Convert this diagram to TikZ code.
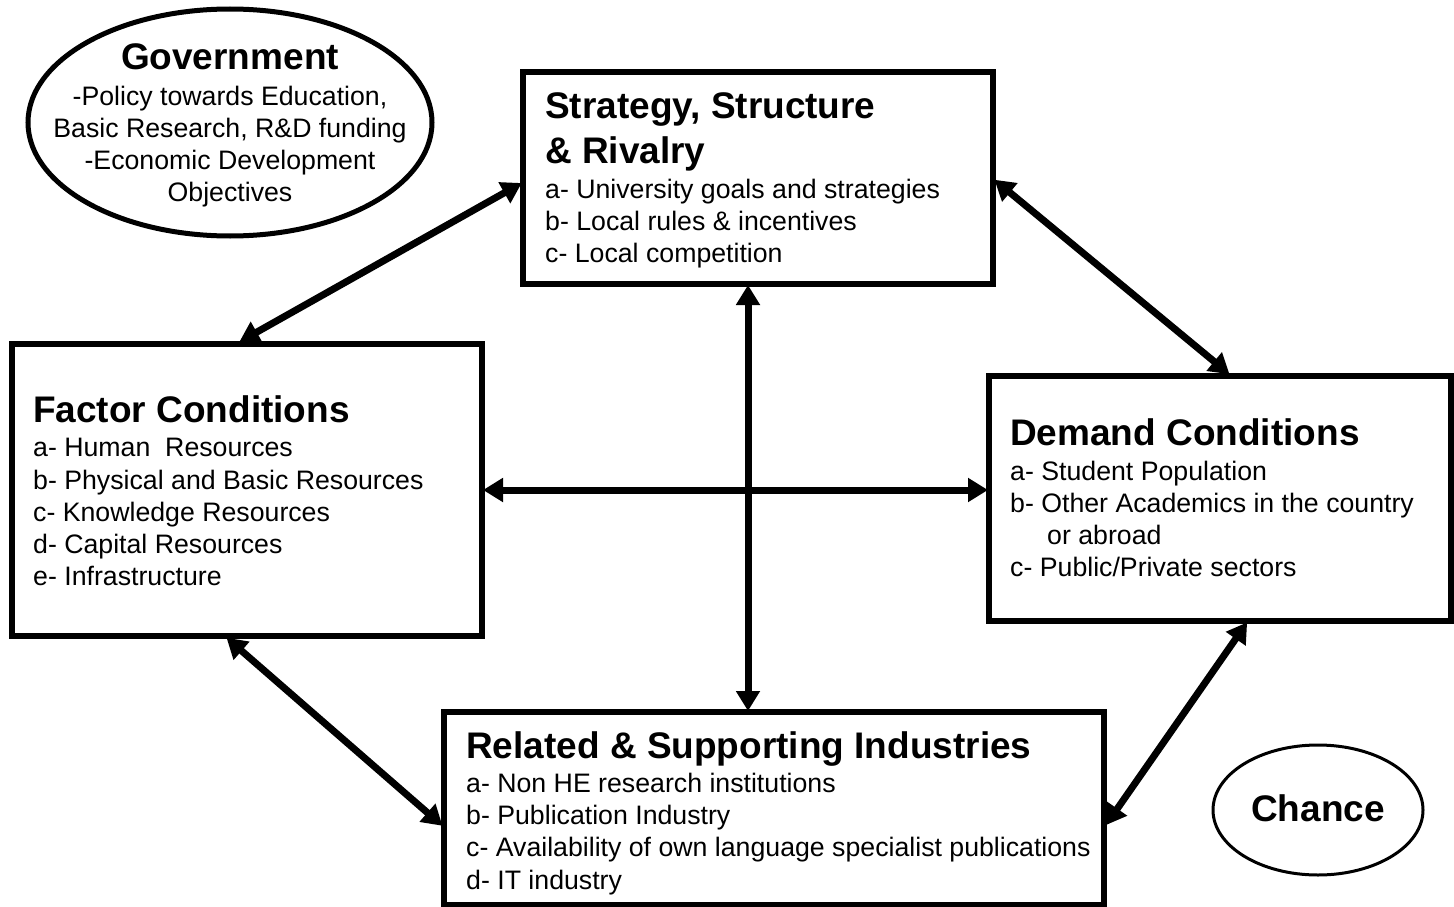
\documentclass[tikz,border=0pt]{standalone}
\usepackage{fontspec}
\setmainfont{Liberation Sans}
\usetikzlibrary{arrows.meta,shapes.geometric}
\tikzset{
  box/.style={draw, line width=6pt, inner sep=0pt},
  oval/.style={draw, ellipse, inner sep=0pt},
  ttl/.style={anchor=base west, inner sep=0pt, font=\fontsize{37}{40}\selectfont\bfseries},
  itm/.style={anchor=base west, inner sep=0pt, font=\fontsize{26.7}{30}\selectfont},
  ctr/.style={anchor=base, inner sep=0pt, font=\fontsize{26.7}{30}\selectfont},
  link/.style={line width=7pt, shorten <=-2pt, shorten >=-2pt, {Triangle[length=20pt,width=23pt]}-{Triangle[length=20pt,width=23pt]}}
}
\begin{document}
\begin{tikzpicture}[x=1pt,y=-1pt]
\useasboundingbox[fill=white] (0,0) rectangle (1454,907);
% boxes
\node[box, minimum width=470pt, minimum height=212pt] (strat) at (758,178) {};
\node[box, minimum width=470pt, minimum height=292pt] (fac) at (247,490) {};
\node[box, minimum width=462pt, minimum height=245pt] (dem) at (1220,498.5) {};
\node[box, minimum width=660pt, minimum height=193pt] (rel) at (774,808.5) {};
\node[oval, line width=5pt, minimum width=404pt, minimum height=227pt] (gov) at (230,122.5) {};
\node[oval, line width=3pt, minimum width=210pt, minimum height=130pt] (chance) at (1318,810) {};
% strategy text
\node[ttl] (s0) at (545,118) {Strategy, Structure};
\node[ttl] (s1) at (545,163) {\& Rivalry};
\node[itm] (s2) at (545,198) {a- University goals and strategies};
\node[itm] (s3) at (545,230) {b- Local rules \& incentives};
\node[itm] (s4) at (545,262) {c- Local competition};
% factor text
\node[ttl] (f0) at (33,422) {Factor Conditions};
\node[itm] (f1) at (33,456) {a- Human\ \ Resources};
\node[itm] (f2) at (33,489) {b- Physical and Basic Resources};
\node[itm] (f3) at (33,521) {c- Knowledge Resources};
\node[itm] (f4) at (33,553) {d- Capital Resources};
\node[itm] (f5) at (33,585) {e- Infrastructure};
% demand text
\node[ttl] (d0) at (1010,445) {Demand Conditions};
\node[itm] (d1) at (1010,480) {a- Student Population};
\node[itm] (d2) at (1010,512) {b- Other Academics in the country};
\node[itm] (d3) at (1047,544) {or abroad};
\node[itm] (d4) at (1010,576) {c- Public/Private sectors};
% related text
\node[ttl] (r0) at (466,758) {Related \& Supporting Industries};
\node[itm] (r1) at (466,792) {a- Non HE research institutions};
\node[itm] (r2) at (466,824) {b- Publication Industry};
\node[itm] (r3) at (466,856) {c- Availability of own language specialist publications};
\node[itm] (r4) at (466,889) {d- IT industry};
% government text
\node[ttl, anchor=base] (g0) at (230,70) {Government};
\node[ctr] (g1) at (230,105) {-Policy towards Education,};
\node[ctr] (g2) at (230,137) {Basic Research, R\&D funding};
\node[ctr] (g3) at (230,169) {-Economic Development};
\node[ctr] (g4) at (230,201) {Objectives};
% chance text
\node[ttl, anchor=base] (c0) at (1318,821) {Chance};
% connectors
\draw[link] ([yshift=-6pt]strat.west) -- ([xshift=-6pt]fac.north);
\draw[link] ([yshift=-3pt]strat.east) -- ([xshift=8pt]dem.north);
\draw[link] ([xshift=-10pt]strat.south) -- ([xshift=-10pt]strat.south |- rel.north);
\draw[link] (fac.east) -- (dem.west |- fac.east);
\draw[link] ([xshift=-19pt]fac.south) -- ([yshift=-16pt]rel.west);
\draw[link] ([xshift=26pt]dem.south) -- ([yshift=-15pt]rel.east);
\end{tikzpicture}
\end{document}
